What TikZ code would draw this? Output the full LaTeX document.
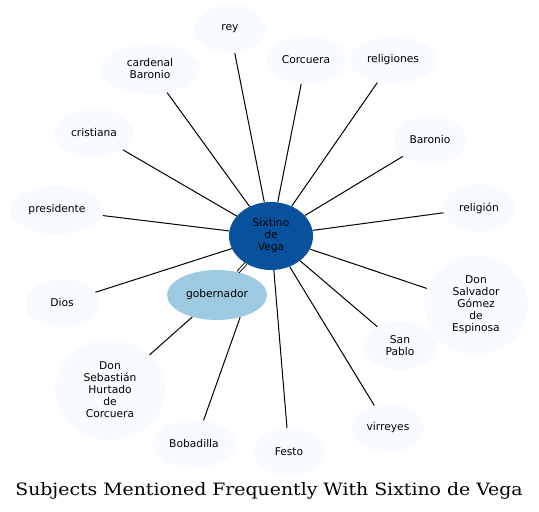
\documentclass[tikz,border=0pt]{standalone}
\usepackage{fontspec}
\setmainfont{DejaVu Sans}
\newfontfamily\titlefont{DejaVu Serif}
\usetikzlibrary{shapes.geometric}
\definecolor{leaf}{HTML}{F7FBFF}
\definecolor{hub}{HTML}{08519C}
\definecolor{mid}{HTML}{9ECAE1}
\begin{document}
\begin{tikzpicture}[x=1pt,y=-1pt,
  ell/.style={ellipse,inner sep=0pt,fill=leaf,align=center,font=\fontsize{10.7}{12}\selectfont},
  edge/.style={draw=black,line width=1pt}]
\useasboundingbox (0,0) rectangle (539,512);
\node[ell,fill=hub,minimum width=84,minimum height=68] (s) at (271,236) {Sixtino\\de\\Vega};
\node[ell,fill=mid,minimum width=100,minimum height=50] (gob) at (217,295) {gobernador};
\node[ell,minimum width=72,minimum height=48] (rey) at (230,29) {rey};
\node[ell,minimum width=80,minimum height=48] (cor) at (306,60) {Corcuera};
\node[ell,minimum width=86,minimum height=48] (rel) at (393,60) {religiones};
\node[ell,minimum width=100,minimum height=50] (car) at (150,69) {cardenal\\Baronio};
\node[ell,minimum width=80,minimum height=48] (cri) at (94,133) {cristiana};
\node[ell,minimum width=74,minimum height=48] (bar) at (430,140) {Baronio};
\node[ell,minimum width=94,minimum height=48] (pre) at (57,210) {presidente};
\node[ell,minimum width=72,minimum height=48] (reli) at (479,208) {religión};
\node[ell,minimum width=104,minimum height=100] (sal) at (476,305) {Don\\Salvador\\Gómez\\de\\Espinosa};
\node[ell,minimum width=74,minimum height=48] (dios) at (62,303) {Dios};
\node[ell,minimum width=74,minimum height=48] (sp) at (400,346) {San\\Pablo};
\node[ell,minimum width=110,minimum height=100] (seb) at (110,390) {Don\\Sebastián\\Hurtado\\de\\Corcuera};
\node[ell,minimum width=74,minimum height=48] (vir) at (388,428) {virreyes};
\node[ell,minimum width=84,minimum height=48] (bob) at (194,444) {Bobadilla};
\node[ell,minimum width=72,minimum height=48] (fes) at (289,452) {Festo};
\node[font=\titlefont\fontsize{17}{19}\selectfont] (title) at (269,491) {\scalebox{1.11}[1]{Subjects Mentioned Frequently With Sixtino de Vega}};
\foreach \n in {rey,cor,rel,car,cri,bar,pre,reli,sal,dios,sp,vir,fes}
  \draw[edge] (s) -- (\n);
\draw[edge,double=white,double distance=1.6pt,line width=0.9pt] (s) -- (gob);
\draw[edge] (gob) -- (seb);
\draw[edge] (gob.-44) -- (bob.68);
\end{tikzpicture}
\end{document}
